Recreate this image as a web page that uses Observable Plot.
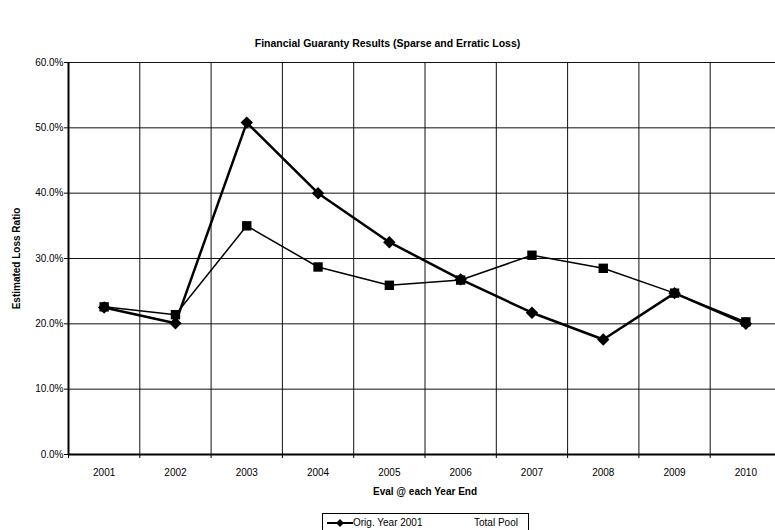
<!DOCTYPE html>
<html>
<head>
<meta charset="utf-8">
<script src="https://cdn.jsdelivr.net/npm/d3@7"></script>
<script src="https://cdn.jsdelivr.net/npm/@observablehq/plot@0.6"></script>
<style>
  html, body { margin: 0; padding: 0; background: #fff; }
  body { width: 775px; height: 530px; overflow: hidden; position: relative; font-family: "Liberation Sans", Arial, sans-serif; color: #000; }
  #title { height: 52px; position: relative; }
  #title span { position: absolute; top: 37px; left: 0; width: 775px; text-align: center; font-weight: bold; font-size: 10.5px; }
  #chart svg g[aria-label="y-axis label"] text, #chart svg g[aria-label="x-axis label"] text { font-weight: bold; }
  #legend { position: absolute; left: 322px; top: 513px; width: 207px; height: 22px; border: 1px solid #000; box-sizing: border-box; font-size: 10px; }
  #legend .item { position: absolute; top: 3px; white-space: nowrap; }
</style>
</head>
<body>
<div id="title"><span>Financial Guaranty Results (Sparse and Erratic Loss)</span></div>
<div id="chart"></div>
<div id="legend"></div>
<script>
const years = [2001, 2002, 2003, 2004, 2005, 2006, 2007, 2008, 2009, 2010];
const origYear2001 = [22.5, 20.1, 50.8, 40.0, 32.5, 26.8, 21.7, 17.6, 24.7, 20.0];
const totalPool = [22.6, 21.4, 35.0, 28.7, 25.9, 26.7, 30.5, 28.5, 24.7, 20.3];
const yTicks = [0, 10, 20, 30, 40, 50, 60];
const seriesNames = ["Orig. Year 2001", "Total Pool"];
const titleText = "Financial Guaranty Results (Sparse and Erratic Loss)";
const xLabel = "Eval @ each Year End";
const yLabel = "Estimated Loss Ratio";

const boundaries = [years[0] - 0.5, ...years.map(y => y + 0.5)];
const origData = years.map((y, i) => ({year: y, value: origYear2001[i]}));
const poolData = years.map((y, i) => ({year: y, value: totalPool[i]}));

const chart = Plot.plot({
  width: 775,
  height: 448,
  marginTop: 10,
  marginBottom: 46,
  marginLeft: 68,
  marginRight: -6,
  style: {fontFamily: '"Liberation Sans", Arial, sans-serif', fontSize: "10px", color: "#000", background: "#fff", overflow: "hidden"},
  x: {type: "linear", domain: [boundaries[0], boundaries[boundaries.length - 1]]},
  y: {type: "linear", domain: [0, 60]},
  marks: [
    Plot.ruleY(yTicks.slice(1), {stroke: "#111", strokeWidth: 1}),
    Plot.ruleX(boundaries.slice(1), {stroke: "#111", strokeWidth: 1}),
    Plot.ruleY([0], {stroke: "#000", strokeWidth: 2}),
    Plot.ruleX([boundaries[0]], {stroke: "#000", strokeWidth: 2}),
    Plot.axisY({ticks: yTicks, tickFormat: d => d.toFixed(1) + "%", tickSize: 4, tickPadding: 1, label: yLabel, labelAnchor: "center", labelOffset: 56, labelArrow: "none"}),
    Plot.axisX({ticks: years, tickSize: 0, tickPadding: 14, tickFormat: d => String(d), label: xLabel, labelAnchor: "center", labelOffset: 40, labelArrow: "none"}),
    Plot.axisX({ticks: boundaries, tickSize: 4, tickFormat: () => "", label: null}),
    Plot.line(poolData, {x: "year", y: "value", stroke: "#000", strokeWidth: 1.5}),
    Plot.dot(poolData, {x: "year", y: "value", symbol: "square", r: 5.3, fill: "#000", stroke: "none"}),
    Plot.line(origData, {x: "year", y: "value", stroke: "#000", strokeWidth: 2.5}),
    Plot.dot(origData, {x: "year", y: "value", symbol: "diamond2", r: 5.6, fill: "#000", stroke: "none"})
  ]
});
document.getElementById("chart").appendChild(chart);

const legend = document.getElementById("legend");
legend.innerHTML =
  '<svg width="30" height="14" style="position:absolute;left:2px;top:2px">' +
  '<line x1="2" y1="7" x2="28" y2="7" stroke="#000" stroke-width="2"/>' +
  '<path d="M15,3 L19,7 L15,11 L11,7 Z" fill="#000"/></svg>' +
  '<span class="item" style="left:30px">' + seriesNames[0] + '</span>' +
  '<span class="item" style="left:151px">' + seriesNames[1] + '</span>';
</script>
</body>
</html>
